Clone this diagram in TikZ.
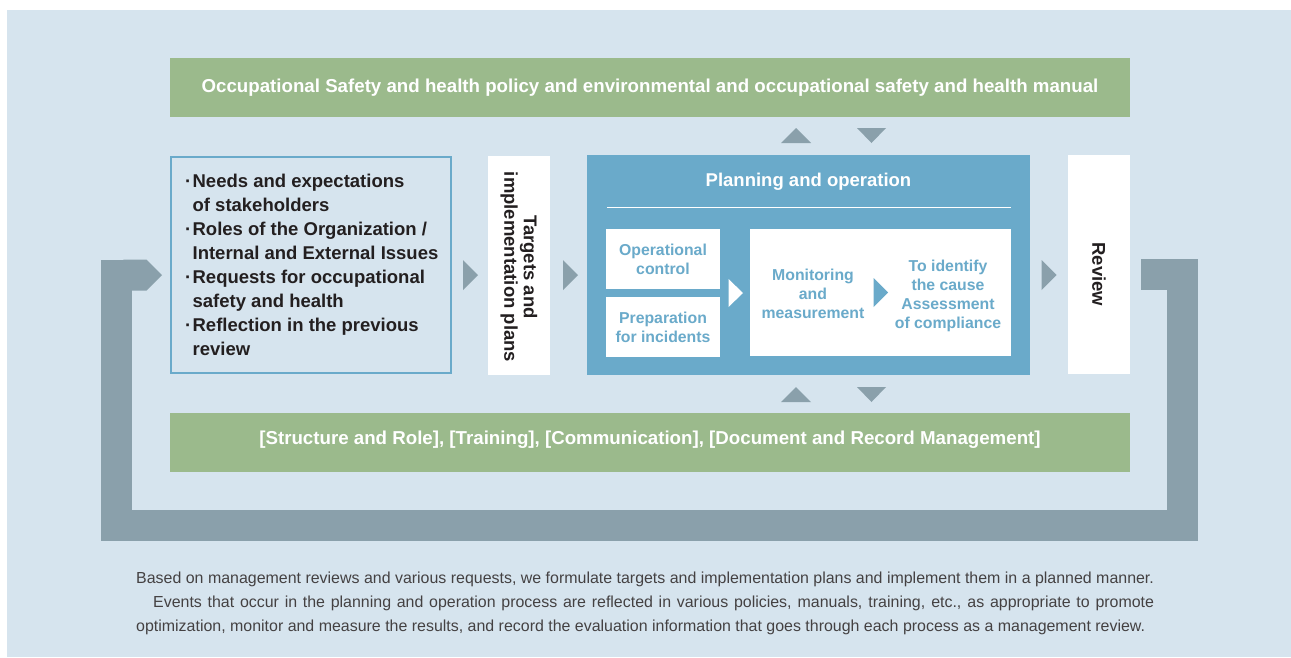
\documentclass[tikz,border=0pt]{standalone}
\usepackage{fontspec}
\setmainfont{Liberation Sans}
\usetikzlibrary{arrows.meta,positioning,calc}
\definecolor{paleblue}{HTML}{D6E4EE}
\definecolor{sagegreen}{HTML}{9BBA8C}
\definecolor{steelblue}{HTML}{6AAACA}
\definecolor{slategrey}{HTML}{8AA0AB}
\definecolor{inkdark}{HTML}{231F20}
\newcommand{\bul}{\makebox[9pt][c]{·}}
\newcommand{\hang}{\hspace*{9pt}}

\begin{document}
\begin{tikzpicture}[
  x=1pt, y=-1pt,
  bar/.style={fill=sagegreen, text=white, font=\bfseries\fontsize{18.7}{22}\selectfont,
              minimum width=960pt, minimum height=59pt, inner sep=0pt},
  ctxbox/.style={draw=steelblue, line width=2pt, fill=paleblue, text=inkdark, align=left,
                 font=\bfseries\fontsize{18.5}{24}\selectfont,
                 minimum width=280pt, minimum height=216pt, inner sep=0pt},
  tallbox/.style={fill=white, minimum width=62pt, minimum height=219pt, inner sep=0pt},
  tallText/.style={rotate=-90, align=center, text=inkdark,
                   font=\bfseries\fontsize{18.5}{19.5}\selectfont},
  planbox/.style={fill=steelblue, minimum width=443pt, minimum height=220pt, inner sep=0pt},
  subbox/.style={fill=white, text=steelblue, align=center, inner sep=0pt,
                 font=\bfseries\fontsize{15.8}{19}\selectfont},
  marker/.style={fill=slategrey},
  loopband/.style={draw=slategrey, line width=31pt, line join=miter, -{Triangle Cap}},
  note/.style={text=inkdark!85, align=left, inner sep=0pt,
               font=\fontsize{15.95}{24}\selectfont}
]
\useasboundingbox (0,0) rectangle (1291,657);
\fill[paleblue] (7,10) rectangle (1291,657);

% policy and support bars
\node[bar] (policy) at (650,87.5) {Occupational Safety and health policy and environmental and occupational safety and health manual};
\node[bar, text depth=10pt] (support) at (650,442.5) {[Structure and Role], [Training], [Communication], [Document and Record Management]};

% context box
\node[ctxbox] (ctx) at (311,265) {\bul Needs and expectations\\
\hang of stakeholders\\
\bul Roles of the Organization /\\
\hang Internal and External Issues\\
\bul Requests for occupational\\
\hang safety and health\\
\bul Reflection in the previous\\
\hang review};

% targets and review
\node[tallbox] (tgt) at (519,265) {};
\node[tallText] (tgtlabel) at ([yshift=-2pt]tgt.center) {Targets and\\implementation plans};
\node[tallbox] (rev) at (1099,264.5) {};
\node[tallText] (revlabel) at ([yshift=-10pt]rev.center) {Review};

% planning and operation
\node[planbox] (plan) at (808.5,265) {};
\node[text=white, font=\bfseries\fontsize{18.5}{22}\selectfont] (plantitle) at (808.5,182) {Planning and operation};
\draw[white, line width=1pt] (607,207) -- (1011,207);
\node[subbox, minimum width=114pt, minimum height=60pt] (opctl) at (663,259) {Operational\\control};
\node[subbox, minimum width=114pt, minimum height=60pt, below=8pt of opctl] (prep) {Preparation\\for incidents};
\node[subbox, minimum width=261pt, minimum height=127pt] (check) at (880.5,292.5) {};
\node[subbox] (monitor) at (813,294) {Monitoring\\and\\measurement};
\node[subbox] (identify) at (948,296) {To identify\\the cause\\Assessment\\of compliance};
\fill[white] (728.5,279) -- (743,293) -- (728.5,307) -- cycle;
\fill[steelblue] (873.5,278) -- (888,292.5) -- (873.5,307) -- cycle;

% flow markers
\foreach \x in {470.5,570.5,1049}
  \fill[marker] (\x-7.5,260) -- (\x+7.5,275) -- (\x-7.5,290) -- cycle;
\foreach \y in {128,387} {
  \fill[marker] (781,\y+15) -- (796,\y) -- (811,\y+15) -- cycle;
  \fill[marker] (857,\y) -- (886,\y) -- (871.5,\y+15) -- cycle;
}

% feedback loop
\coordinate (loopR) at (1182.5,525.5);
\coordinate (loopL) at (116.5,525.5);
\draw[loopband] ([shift={(11pt,-10pt)}]rev.east) -| (loopR) -- (loopL)
  |- ([shift={(-8pt,-10pt)}]ctx.west);

% explanation
\node[note, anchor=north west] (expl) at (136,572) {Based on management reviews and various requests, we formulate targets and implementation plans and implement them in a planned manner.\\
\hspace*{17pt}\makebox[1001pt][s]{Events that occur in the planning and operation process are reflected in various policies, manuals, training, etc., as appropriate to promote}\\
optimization, monitor and measure the results, and record the evaluation information that goes through each process as a management review.};
\end{tikzpicture}
\end{document}
